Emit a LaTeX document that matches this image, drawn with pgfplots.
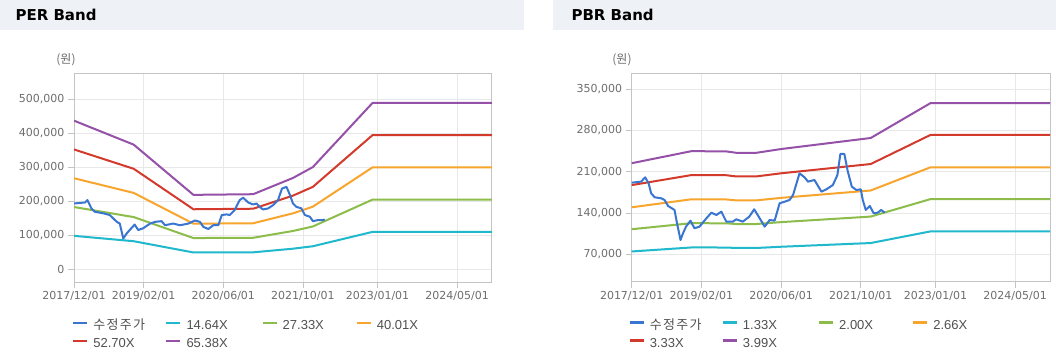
\documentclass[border=0pt]{standalone}
\usepackage{pgfplots}
\pgfplotsset{compat=1.18}
\usepackage{fontspec}
\setmainfont{DejaVu Sans}
\newfontfamily\lib{Liberation Sans}
\newfontfamily\kr[LetterSpace=10]{Noto Sans CJK KR}
\newfontfamily\krp{Noto Sans CJK KR}
\definecolor{pblue}{HTML}{3A76D0}
\definecolor{pcyan}{HTML}{1FB8CC}
\definecolor{pgreen}{HTML}{8CBD4A}
\definecolor{porange}{HTML}{F7A52D}
\definecolor{pred}{HTML}{D33A2C}
\definecolor{ppurple}{HTML}{9550A8}
\definecolor{gridc}{HTML}{E8E8E8}
\definecolor{framec}{HTML}{C4C4C4}
\definecolor{tickc}{HTML}{6E6E6E}
\definecolor{legc}{HTML}{505050}
\definecolor{hdr}{HTML}{EEF1F6}

\pgfplotsset{bandaxis/.style={
  scale only axis, anchor=south west,
  xmin=0, xmax=84,
  xtick={0,14,30,46,61,77},
  xticklabels={2017/12/01,2019/02/01,2020/06/01,2021/10/01,2023/01/01,2024/05/01},
  xtick pos=bottom, ytick pos=left,
  scaled y ticks=false, scaled x ticks=false,
  tick align=outside, major tick length=6pt,
  grid=major, major grid style={draw=gridc, line width=0.8pt},
  axis line style={draw=framec, line width=1pt},
  every tick/.style={draw=framec, line width=0.8pt},
  tick label style={font=\fontsize{11}{13}\selectfont, text=tickc},
  /pgf/number format/assume math mode=true,
  legend cell align=left, legend columns=4,
  legend image code/.code={\draw[##1, line width=2.2pt] (0pt,3.5pt) -- (14pt,3.5pt);},
  legend style={draw=none, fill=none, inner sep=0pt, anchor=north west,
    font=\lib\fontsize{13}{15}\selectfont, text=legc, row sep=5pt,
    /tikz/every odd column/.style={column sep=5pt},
    nodes={inner sep=0pt, text height=10pt, text depth=3pt}},
  every axis plot/.append style={line width=2pt, no marks, line join=round},
}}

\begin{document}
\begin{tikzpicture}
\useasboundingbox (0,0) rectangle (1056pt,353pt);
\fill[white] (0,0) rectangle (1056pt,353pt);
\fill[hdr] (0,323pt) rectangle (524pt,353pt);
\fill[hdr] (553pt,323pt) rectangle (1056pt,353pt);
\node[anchor=west, font=\bfseries\fontsize{15}{18}\selectfont, text=black] at (12pt,338pt) {PER Band};
\node[anchor=west, font=\bfseries\fontsize{15}{18}\selectfont, text=black] at (568pt,338pt) {PBR Band};
\node[font=\krp\fontsize{12}{14}\selectfont, text=tickc] at (66pt,293pt) {(원)};
\node[font=\krp\fontsize{12}{14}\selectfont, text=tickc] at (622pt,293pt) {(원)};

% ---------------- PER Band ----------------
\begin{axis}[bandaxis,
  at={(74pt,71pt)}, width=418pt, height=208pt,
  ymin=-38000, ymax=574000,
  ytick={0,100000,200000,300000,400000,500000},
  yticklabels={0,{100,000},{200,000},{300,000},{400,000},{500,000}},
  legend style={at={(axis description cs:-0.005,-0.181)}},
]
\addlegendimage{pblue, line width=2.2pt}
\addlegendentry{\makebox[72pt][l]{\kr 수정주가}}
\addplot[pcyan] coordinates {(0,97800) (12,82000) (24,48900) (36,49300) (44,60000) (48,67200) (60,109500) (84,109500)};
\addlegendentry{\makebox[75pt][l]{14.64X}}
\addplot[pgreen] coordinates {(0,182600) (12,153000) (24,91300) (36,92100) (44,112100) (48,125400) (60,204400) (84,204400)};
\addlegendentry{\makebox[73pt][l]{27.33X}}
\addplot[porange] coordinates {(0,267300) (12,224100) (24,133600) (36,134800) (44,164000) (48,183600) (60,299300) (84,299300)};
\addlegendentry{40.01X}
\addplot[pred] coordinates {(0,352000) (12,295100) (24,176000) (36,177600) (44,216100) (48,241900) (60,394200) (84,394200)};
\addlegendentry{52.70X}
\addplot[ppurple] coordinates {(0,436700) (12,366100) (24,218400) (36,220300) (44,268100) (48,300100) (60,489000) (84,489000)};
\addlegendentry{65.38X}
\addplot[pblue, forget plot] coordinates {
(0,193000) (2.2,196000) (2.7,203000) (3.5,178500) (4.2,168600) (5.9,164000) (7.2,159000)
(8.6,139000) (9.2,134000) (9.9,90000) (10.6,105000) (11.2,115000) (12.2,131000) (12.9,115000)
(13.9,120000) (15.3,134000) (16.3,139000) (17.6,141000) (18.3,129000) (19.9,134000) (21.3,129000)
(23,134000) (24.3,143000) (25.3,139000) (26,124000) (27,118000) (28,129000) (29,129000)
(29.7,159000) (30.7,161000) (31.3,159000) (32.3,174000) (33.3,203000) (34,210000) (35,196000)
(36,190000) (36.7,193000) (37.3,183000) (38,175500) (39,178500) (40,188000) (41,203000)
(41.8,237000) (42.7,242000) (43.4,218000) (44,193000) (44.7,183000) (45.7,178500) (46.4,159000)
(47.4,154000) (48,141000) (49,144000) (50,144000) (50.4,146000)};
\end{axis}

% ---------------- PBR Band ----------------
\begin{axis}[bandaxis,
  at={(631.7pt,71.3pt)}, width=418.3pt, height=207.7pt,
  ymin=23500, ymax=375300,
  ytick={70000,140000,210000,280000,350000},
  yticklabels={{70,000},{140,000},{210,000},{280,000},{350,000}},
  legend style={at={(axis description cs:-0.008,-0.181)}},
]
\addlegendimage{pblue, line width=2.2pt}
\addlegendentry{\makebox[72pt][l]{\kr 수정주가}}
\addplot[pcyan] coordinates {(0,74700) (12,81500) (19,81400) (21,80600) (25,80600) (30,82700) (48,89000) (60,108700) (84,108700)};
\addlegendentry{\makebox[75pt][l]{1.33X}}
\addplot[pgreen] coordinates {(0,112400) (12,122600) (19,122400) (21,121200) (25,121200) (30,124400) (48,133800) (60,163400) (84,163400)};
\addlegendentry{\makebox[73pt][l]{2.00X}}
\addplot[porange] coordinates {(0,149500) (12,163100) (19,162800) (21,161200) (25,161200) (30,165500) (48,178000) (60,217300) (84,217300)};
\addlegendentry{2.66X}
\addplot[pred] coordinates {(0,187100) (12,204100) (19,203800) (21,201800) (25,201800) (30,207100) (48,222800) (60,272100) (84,272100)};
\addlegendentry{3.33X}
\addplot[ppurple] coordinates {(0,224200) (12,244600) (19,244200) (21,241800) (25,241800) (30,248200) (48,266900) (60,326000) (84,326000)};
\addlegendentry{3.99X}
\addplot[pblue, forget plot] coordinates {
(0,191200) (1.9,193000) (2.7,200300) (3.4,190000) (3.9,173300) (4.6,166500) (5.9,164800)
(6.6,161900) (7.3,151800) (8.6,145000) (9.1,122400) (9.8,94200) (10.3,105500) (10.9,116700)
(11.8,126900) (12.6,114000) (13.6,116700) (15,130900) (16,140400) (17,136500) (18,142100)
(19,125200) (20.3,125200) (21,129200) (22.3,125200) (23.6,133600) (24.6,146100) (25.7,130900)
(26.7,116700) (27.7,128000) (28.7,126900) (29.7,156300) (30.7,159000) (31.7,161900) (32.4,170400)
(33.7,207000) (34.7,200300) (35.4,193000) (36.7,195700) (38.1,176000) (39.1,180000) (40.4,187300)
(41.3,204000) (41.9,239800) (42.7,239800) (43.4,210000) (44.2,184500) (45.1,178800) (46,180000)
(46.4,161900) (47,145000) (47.8,151800) (48.6,139300) (49.4,140400) (50.1,145000) (50.8,140400)};
\end{axis}
\end{tikzpicture}
\end{document}
